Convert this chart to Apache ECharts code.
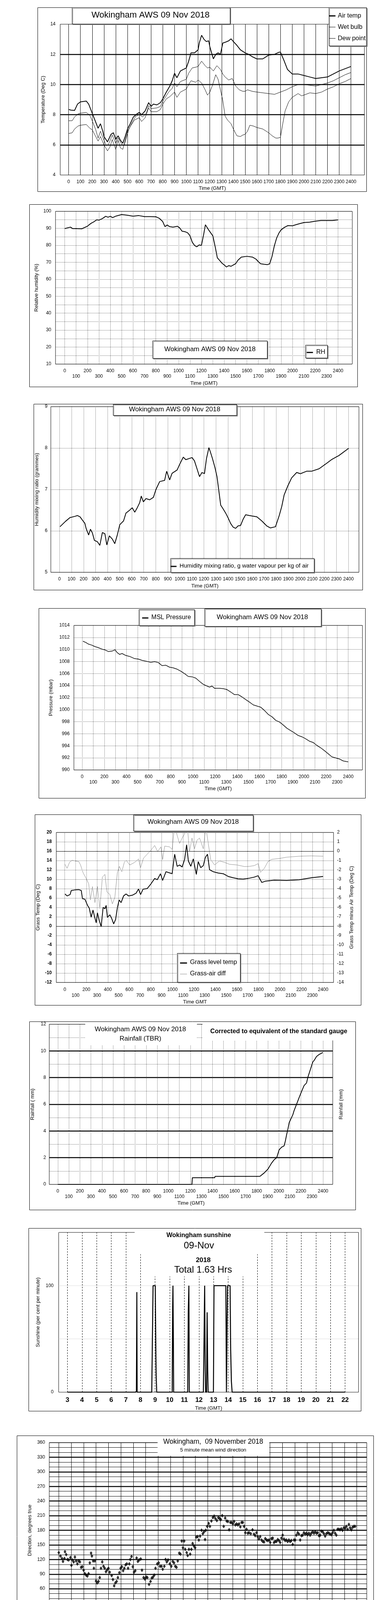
<!DOCTYPE html>
<html><head><meta charset="utf-8">
<script src="https://cdn.jsdelivr.net/npm/echarts@6/dist/echarts.min.js"></script>
<style>html,body{margin:0;padding:0;background:#fff}#c{width:1000px;height:5000px}</style>
</head><body><div id="c"></div>
<script>
const FONT = "'Liberation Sans', Arial, sans-serif";
// ---- tick labels ----
const hundreds = [0,100,200,300,400,500,600,700,800,900,1000,1100,1200,1300,1400,1500,1600,1700,1800,1900,2000,2100,2200,2300,2400];
const hours0to24 = [0,1,2,3,4,5,6,7,8,9,10,11,12,13,14,15,16,17,18,19,20,21,22,23,24];
const hours0to23 = [0,1,2,3,4,5,6,7,8,9,10,11,12,13,14,15,16,17,18,19,20,21,22,23];
const sunHours = [3,4,5,6,7,8,9,10,11,12,13,14,15,16,17,18,19,20,21,22];
const tempThick = [6,8,10,12];
const rainThick = [2,4,6,8,10];
const dirThick = [30,60,90,120,150,180,210,240,270,300,330];
const grassSolid = [0,16];

// ---- chart 1: temperatures ----
const airTemp = [[0,8.35],[20,8.3],[50,8.28],[75,8.7],[100,8.85],[150,8.9],[170,8.7],[200,8.1],[230,7.5],[250,7.1],[270,7.4],[290,6.9],[300,6.55],[330,6.2],[360,6.7],[380,6.8],[400,6.35],[420,6.6],[440,6.3],[460,6.1],[480,6.55],[500,7.05],[520,7.35],[550,7.85],[580,8.05],[600,8.15],[620,8.0],[650,8.25],[680,8.8],[700,8.55],[720,8.7],[750,8.65],[780,8.8],[800,9.05],[830,9.5],[860,9.9],[880,10.25],[900,10.75],[920,10.45],[950,10.9],[1000,11.1],[1020,11.55],[1040,12.1],[1070,12.1],[1100,12.3],[1110,12.75],[1130,13.27],[1150,13.0],[1170,12.85],[1190,12.9],[1200,12.5],[1230,11.7],[1250,12.0],[1270,12.1],[1290,12.0],[1310,12.75],[1330,12.8],[1360,12.9],[1380,13.03],[1400,12.85],[1430,12.6],[1460,12.3],[1500,12.1],[1530,12.0],[1560,11.85],[1600,11.7],[1650,11.7],[1700,11.95],[1750,12.0],[1790,12.15],[1800,12.15],[1830,11.6],[1860,11.0],[1900,10.7],[1950,10.7],[2000,10.6],[2050,10.5],[2100,10.4],[2150,10.45],[2200,10.5],[2250,10.7],[2300,10.9],[2350,11.05],[2400,11.2]];
const wetBulb = [[0,7.6],[30,7.6],[50,7.85],[80,8.05],[100,8.1],[150,8.15],[180,7.95],[200,7.6],[230,7.0],[250,6.45],[270,6.9],[300,6.3],[320,5.95],[340,6.05],[370,6.65],[400,6.1],[420,6.45],[450,6.05],[470,5.95],[490,6.45],[510,7.0],[540,7.5],[570,7.9],[600,8.0],[630,7.85],[660,8.1],[680,8.6],[700,8.4],[750,8.45],[780,8.55],[800,8.9],[850,9.5],[880,9.75],[900,10.1],[920,9.85],[950,10.2],[1000,10.35],[1020,10.75],[1050,11.1],[1080,11.15],[1100,11.2],[1130,11.55],[1160,11.25],[1180,11.1],[1200,11.15],[1230,10.9],[1260,11.25],[1290,11.0],[1310,10.7],[1330,10.5],[1360,10.3],[1390,10.4],[1420,9.9],[1450,9.65],[1480,9.55],[1500,9.55],[1520,9.65],[1560,9.55],[1600,9.5],[1650,9.45],[1700,9.4],[1750,9.35],[1800,9.5],[1850,9.65],[1900,9.85],[1950,10.0],[2000,10.0],[2050,9.95],[2100,9.9],[2150,10.0],[2200,10.1],[2250,10.25],[2300,10.45],[2350,10.65],[2400,10.8]];
const dewPoint = [[0,6.75],[30,6.8],[50,7.05],[80,7.25],[100,7.3],[150,7.35],[180,7.1],[200,7.0],[220,6.7],[250,6.25],[270,6.55],[300,6.0],[330,5.6],[350,5.85],[370,6.35],[400,5.7],[420,6.3],[440,5.8],[460,5.7],[480,6.3],[500,6.9],[530,7.3],[560,7.65],[600,7.8],[620,7.55],[650,7.8],[680,8.45],[700,8.2],[750,8.2],[780,8.35],[800,8.7],[830,9.05],[860,9.2],[900,9.5],[920,9.15],[950,9.5],[1000,9.7],[1020,10.0],[1040,10.25],[1080,10.15],[1100,10.3],[1130,10.1],[1160,9.65],[1180,9.3],[1200,9.5],[1220,9.9],[1250,10.65],[1270,10.35],[1290,9.65],[1310,8.95],[1330,7.9],[1350,7.65],[1380,7.4],[1400,7.05],[1430,6.6],[1460,6.55],[1480,6.65],[1500,6.7],[1520,6.9],[1540,7.3],[1570,7.25],[1600,7.15],[1650,7.05],[1700,6.8],[1730,6.6],[1760,6.45],[1780,6.45],[1800,6.5],[1820,7.4],[1840,8.25],[1870,8.85],[1900,9.15],[1950,9.4],[1980,9.25],[2000,9.3],[2050,9.45],[2100,9.4],[2150,9.5],[2200,9.7],[2250,9.85],[2300,10.05],[2350,10.2],[2400,10.4]];
// ---- chart 2: RH ----
const rh = [[0,89.8],[50,90.7],[70,89.8],[100,89.8],[150,89.7],[200,91.3],[230,92.9],[260,94.0],[280,95.0],[300,94.8],[330,95.7],[360,97.1],[380,96.5],[400,97.1],[420,96.3],[450,97.2],[500,98.1],[550,97.7],[600,97.1],[650,97.5],[700,96.9],[750,96.9],[800,96.8],[830,95.9],[860,94.0],[880,91.0],[900,91.9],[920,91.0],[950,90.7],[990,91.2],[1010,90.2],[1030,88.3],[1060,87.9],[1080,87.3],[1100,85.6],[1120,81.8],[1140,79.9],[1160,79.1],[1180,80.2],[1200,79.9],[1220,86.4],[1235,92.1],[1260,89.4],[1280,87.5],[1300,85.6],[1320,79.5],[1340,72.6],[1360,71.1],[1380,69.5],[1400,68.4],[1420,67.2],[1440,68.0],[1460,67.6],[1480,68.4],[1500,69.1],[1520,71.1],[1550,73.0],[1600,73.5],[1650,73.0],[1680,71.8],[1700,70.3],[1720,69.1],[1750,68.8],[1780,68.6],[1800,69.1],[1820,73.4],[1840,79.5],[1860,84.1],[1880,87.1],[1900,89.1],[1930,90.6],[1960,91.6],[2000,91.5],[2030,92.1],[2060,92.7],[2100,93.4],[2150,93.6],[2200,94.2],[2250,94.6],[2300,94.6],[2350,94.6],[2400,95.0]];
// ---- chart 3: mixing ratio ----
const mixRatio = [[4,6.10],[50,6.23],[87,6.32],[128,6.35],[149,6.37],[170,6.34],[190,6.26],[211,6.18],[221,6.06],[242,5.90],[257,6.04],[273,5.95],[290,5.77],[314,5.74],[335,5.65],[356,5.96],[377,5.93],[393,5.66],[414,5.88],[439,5.80],[459,5.69],[480,5.90],[501,6.15],[532,6.24],[552,6.43],[583,6.50],[604,6.56],[625,6.45],[646,6.56],[666,6.68],[679,6.84],[697,6.70],[718,6.78],[749,6.75],[780,6.81],[801,7.0],[832,7.19],[873,7.22],[890,7.44],[915,7.23],[935,7.39],[977,7.47],[997,7.60],[1028,7.78],[1049,7.72],[1101,7.77],[1121,7.69],[1142,7.50],[1163,7.31],[1183,7.41],[1204,7.38],[1221,7.75],[1241,8.01],[1256,7.88],[1270,7.75],[1291,7.53],[1308,7.31],[1322,7.0],[1339,6.62],[1359,6.53],[1380,6.43],[1401,6.31],[1421,6.18],[1442,6.09],[1463,6.06],[1483,6.12],[1504,6.13],[1525,6.28],[1546,6.39],[1577,6.37],[1639,6.34],[1680,6.24],[1721,6.12],[1752,6.07],[1794,6.10],[1825,6.37],[1846,6.59],[1866,6.87],[1897,7.09],[1928,7.28],[1970,7.41],[2001,7.38],[2052,7.44],[2094,7.44],[2156,7.50],[2218,7.63],[2259,7.72],[2321,7.82],[2400,7.99]];
// ---- chart 4: MSL pressure ----
const pressure = [[7,1011.37],[34,1011.15],[56,1010.9],[90,1010.7],[113,1010.5],[146,1010.3],[180,1010.05],[203,1009.95],[236,1009.66],[270,1009.73],[297,1009.95],[315,1009.5],[338,1009.18],[360,1009.33],[394,1009.0],[428,1008.85],[473,1008.48],[507,1008.4],[540,1008.2],[585,1008.02],[619,1007.87],[653,1007.98],[687,1007.83],[720,1007.32],[754,1007.39],[788,1007.06],[822,1006.95],[856,1006.73],[889,1006.4],[923,1006.0],[957,1005.52],[991,1005.46],[1025,1005.24],[1059,1004.69],[1092,1004.21],[1126,1003.93],[1149,1003.75],[1171,1003.93],[1194,1003.55],[1239,1003.55],[1273,1003.49],[1306,1003.34],[1340,1002.94],[1374,1002.5],[1408,1002.5],[1441,1002.13],[1475,1001.69],[1509,1001.26],[1543,1000.8],[1577,1000.6],[1610,1000.42],[1644,999.88],[1678,999.22],[1712,998.83],[1746,998.23],[1779,997.97],[1813,997.47],[1847,996.92],[1881,996.53],[1914,996.15],[1948,995.72],[1982,995.5],[2016,995.17],[2050,994.77],[2083,994.56],[2117,994.07],[2151,993.68],[2185,993.2],[2218,992.7],[2252,992.17],[2286,992.0],[2320,991.82],[2354,991.49],[2387,991.38],[2400,991.34]];
// ---- chart 5: grass ----
const grassTemp = [[2,6.88],[21,6.45],[49,6.74],[60,7.6],[95,7.74],[130,7.8],[153,7.6],[164,5.88],[187,5.74],[211,4.44],[227,3.87],[245,1.92],[262,3.44],[275,2.15],[292,0.71],[303,2.86],[319,1.29],[338,-0.09],[356,4.01],[373,3.72],[384,4.44],[396,1.86],[419,2.43],[437,1.57],[454,0.48],[472,1.43],[488,3.87],[505,5.59],[523,5.02],[546,6.45],[569,6.88],[592,6.45],[627,6.6],[662,7.03],[685,7.94],[704,6.74],[727,7.89],[766,8.03],[801,9.04],[835,10.18],[859,9.9],[889,11.19],[909,9.75],[940,11.62],[997,11.19],[1021,15.35],[1044,12.77],[1067,13.05],[1090,12.62],[1113,14.2],[1132,17.36],[1148,13.92],[1171,12.77],[1194,14.35],[1222,11.04],[1240,13.77],[1263,12.48],[1287,12.91],[1305,14.63],[1326,15.35],[1345,12.05],[1379,11.62],[1426,11.33],[1472,11.19],[1518,10.61],[1564,10.33],[1611,10.1],[1657,10.04],[1715,10.24],[1761,10.47],[1796,10.76],[1831,9.32],[1865,9.61],[1946,9.81],[2062,9.75],[2177,9.9],[2293,10.33],[2400,10.61]];
const grassAirDiff = [[2,-1.4],[21,-1.83],[44,-1.19],[67,-0.97],[95,-1.04],[130,-1.11],[146,-1.47],[171,-2.33],[199,-2.91],[222,-3.48],[238,-5.2],[257,-3.77],[280,-5.49],[303,-3.77],[326,-6.13],[349,-2.76],[373,-2.48],[391,-4.34],[419,-4.63],[442,-5.63],[465,-4.92],[488,-2.33],[507,-1.62],[530,-2.19],[553,-1.19],[569,-0.97],[604,-1.47],[650,-1.19],[685,-0.83],[704,-1.76],[731,-0.75],[766,-0.32],[801,0.11],[835,0.61],[863,-0.04],[893,0.46],[909,-0.9],[928,0.54],[974,0.46],[997,0.18],[1021,2.8],[1044,1.68],[1067,0.82],[1090,1.4],[1113,1.83],[1132,3.5],[1159,-0.04],[1182,1.4],[1205,0.25],[1229,1.18],[1252,1.4],[1287,0.25],[1310,2.6],[1333,0.82],[1356,-0.9],[1391,-1.47],[1437,-1.04],[1484,-1.19],[1530,-1.4],[1599,-1.47],[1669,-1.64],[1715,-1.62],[1761,-1.54],[1796,-1.33],[1819,-2.26],[1854,-1.83],[1888,-1.11],[1923,-0.87],[1993,-0.78],[2062,-0.64],[2177,-0.54],[2293,-0.5],[2400,-0.54]];
// ---- chart 6: rainfall ----
const rainfall = [[0,0],[1214,0],[1218,0.5],[1420,0.5],[1423,0.6],[1829,0.6],[1868,0.86],[1902,1.15],[1935,1.6],[1958,1.85],[1981,2.0],[2003,2.59],[2014,2.69],[2026,2.79],[2048,2.89],[2059,3.24],[2071,3.74],[2082,4.13],[2094,4.63],[2105,4.83],[2127,5.22],[2138,5.52],[2161,6.01],[2184,6.51],[2206,6.96],[2229,7.41],[2251,7.6],[2262,8.0],[2285,8.59],[2308,9.18],[2319,9.28],[2341,9.58],[2364,9.73],[2398,9.88]];
// ---- chart 7: sunshine ----
const sunshine = [[3,0],[7.66,0],[7.72,1],[7.75,94],[7.77,0],[8.77,0],[8.86,100],[9.01,100],[9.05,40],[9.07,17],[9.11,0],[10.17,0],[10.2,80],[10.22,100],[10.25,50],[10.27,0],[11.23,0],[11.27,75],[11.31,100],[11.34,0],[12.3,0],[12.34,40],[12.39,100],[12.43,20],[12.46,0],[12.52,0],[12.56,75],[12.6,20],[12.63,0],[12.99,0],[13.03,100],[13.84,100],[13.88,0],[13.9,0],[13.93,70],[13.96,100],[14.13,100],[14.17,40],[14.22,10],[14.27,0],[22,0]];
// ---- chart 8: wind direction ----
const windDir = [[0,134],[0.14,127],[0.26,122],[0.34,116],[0.46,122],[0.5,136],[0.6,130],[0.7,120],[0.8,119],[0.94,124],[1.02,108],[1.1,119],[1.2,115],[1.3,125],[1.4,117],[1.5,111],[1.6,117],[1.7,115],[1.8,104],[1.9,105],[2.0,98],[2.1,91],[2.2,88],[2.3,86],[2.4,91],[2.5,113],[2.6,133],[2.67,127],[2.77,117],[2.83,102],[2.9,117],[3.0,76],[3.1,72],[3.2,75],[3.3,83],[3.4,102],[3.5,115],[3.6,106],[3.7,102],[3.8,95],[3.9,99],[4.0,102],[4.1,94],[4.26,87],[4.36,79],[4.46,66],[4.56,72],[4.66,75],[4.76,83],[4.88,93],[4.98,102],[5.08,105],[5.18,97],[5.28,102],[5.38,109],[5.48,111],[5.58,102],[5.68,111],[5.76,120],[5.86,126],[5.96,105],[6.06,94],[6.16,97],[6.27,123],[6.37,116],[6.47,119],[6.6,121],[6.7,98],[6.83,83],[6.93,80],[7.03,84],[7.13,83],[7.27,69],[7.39,75],[7.49,82],[7.59,84],[7.69,88],[7.79,102],[7.93,111],[8.05,113],[8.15,106],[8.27,106],[8.37,100],[8.5,106],[8.6,120],[8.7,115],[8.8,119],[8.94,111],[9.06,106],[9.18,116],[9.28,113],[9.38,106],[9.48,104],[9.58,117],[9.7,133],[9.8,131],[9.9,158],[10.0,144],[10.1,158],[10.18,141],[10.3,134],[10.38,128],[10.48,141],[10.58,131],[10.68,141],[10.78,153],[10.88,148],[10.98,144],[11.08,166],[11.18,167],[11.28,160],[11.38,168],[11.5,180],[11.6,173],[11.7,177],[11.78,161],[11.84,180],[11.95,188],[12.07,194],[12.17,188],[12.29,199],[12.41,206],[12.51,209],[12.61,204],[12.73,200],[12.85,206],[12.95,204],[13.05,202],[13.16,210],[13.28,188],[13.4,205],[13.52,199],[13.62,198],[13.72,181],[13.82,196],[13.92,196],[14.02,193],[14.12,198],[14.22,191],[14.32,193],[14.42,191],[14.52,193],[14.62,187],[14.72,196],[14.82,196],[14.92,188],[15.02,175],[15.12,182],[15.22,174],[15.32,175],[15.46,173],[15.6,181],[15.72,172],[15.82,169],[15.92,175],[16.02,167],[16.12,162],[16.22,167],[16.33,160],[16.43,157],[16.53,156],[16.63,163],[16.73,160],[16.83,159],[16.93,160],[17.03,155],[17.13,163],[17.23,164],[17.33,155],[17.43,157],[17.53,157],[17.63,161],[17.73,159],[17.83,155],[17.93,164],[18.03,170],[18.13,162],[18.23,159],[18.33,160],[18.43,157],[18.53,160],[18.63,157],[18.73,159],[18.84,151],[18.94,160],[19.04,160],[19.14,170],[19.24,175],[19.34,172],[19.44,160],[19.54,169],[19.64,170],[19.74,175],[19.84,172],[19.94,174],[20.04,171],[20.14,174],[20.24,170],[20.34,174],[20.45,177],[20.55,174],[20.65,177],[20.75,174],[20.85,175],[20.95,169],[21.05,170],[21.15,178],[21.25,177],[21.35,173],[21.45,168],[21.55,173],[21.65,175],[21.75,174],[21.85,172],[21.95,171],[22.05,175],[22.15,180],[22.25,174],[22.35,170],[22.45,182],[22.55,182],[22.65,181],[22.75,183],[22.85,180],[22.95,185],[23.06,184],[23.16,188],[23.26,182],[23.36,192],[23.46,185],[23.56,181],[23.66,186],[23.76,188],[23.86,188]];
// ---- chart 9: wind speed ----
const meanSpeed = [[0.04,6.86],[0.14,7.33],[0.24,6.39],[0.43,5.45],[0.63,6.63],[0.82,5.22],[1.12,4.75],[1.31,5.22],[1.61,3.57],[1.9,3.8],[2.1,4.28],[2.29,4.75],[2.49,3.34],[2.68,2.63],[2.84,1.93],[2.98,1.69],[3.13,4.28],[3.37,3.57],[3.66,3.8],[3.96,4.51],[4.25,4.04],[4.55,3.8],[4.84,4.28],[5.13,3.57],[5.43,4.04],[5.72,4.75],[6.01,4.28],[6.31,3.34],[6.5,2.4],[6.7,3.8],[6.99,4.04],[7.29,3.8],[7.58,3.57],[7.88,4.04],[8.17,5.45],[8.46,5.22],[8.86,5.92],[9.25,6.25],[9.64,5.92],[9.93,4.51],[10.13,6.16],[10.42,7.8],[10.72,7.1],[10.91,6.16],[11.21,8.98],[11.5,8.27],[11.79,6.63],[11.99,7.57],[12.19,9.45],[12.48,10.39],[12.77,11.8],[12.97,10.86],[13.26,12.03],[13.46,11.33],[13.66,9.21],[13.95,11.8],[14.24,10.15],[14.54,13.2],[14.83,11.33],[15.13,8.5],[15.42,11.33],[15.71,10.62],[16.01,9.92],[16.3,10.39],[16.69,11.33],[16.99,12.03],[17.28,10.39],[17.57,11.8],[17.87,13.91],[18.16,11.33],[18.46,12.5],[18.75,11.8],[19.04,9.68],[19.34,10.86],[19.63,12.03],[19.93,11.33],[20.22,11.8],[20.42,13.2],[20.71,12.03],[21.0,11.09],[21.3,11.33],[21.59,12.73],[21.88,10.39],[22.18,11.33],[22.47,9.68],[22.77,11.09],[23.06,11.33],[23.35,10.15],[23.65,9.21],[23.94,8.5]];
const gustEvery10min = [12.2,7.5,10,6.5,12.3,7, 8.5,5,8,6,8.5,4.5, 8,5,8.5,4.5,4,2.5, 3,7,5,8,5.5,8.5, 5,7.5,4.5,7,5,8.5, 5,7,5.5,9,5,11.3, 6,7.5,3.5,7,3,6.5, 4,8,4.5,7.5,4,8, 5.5,9,6,9.5,6,10, 6,11,6.5,10.5,5,12, 7,12.5,7,14.5,6.5,12, 8,16.5,7,15,9,17, 10,16,11,20.5,12,22, 12,25,13,21,12,23, 11,22,12,25,11,19, 10,18,11,21,10,19.5, 11,20,12,26.5,11,22, 12,25,13,20,12,24, 12,22,13,24.5,11,21, 12,25,11,27.5,12,22, 12,26.5,11,25,13,21, 12,25.5,11,24,12,22, 11,21,12,20.5,10,18, 10,16,9,15.5,11,15.5, 15];
const speedDiv10 = [[0.98,40.1],[1.02,39.3],[1.08,38.6],[1.14,40.0],[1.57,38.7],[1.58,37.9],[1.65,36.5],[1.70,36.7],[1.76,36.2],[1.80,35.5],[1.84,34.8],[1.88,33.9],[1.92,34.8],[1.96,39.8],[2.0,37.6],[2.04,38.3],[2.08,36.7],[2.12,38.1],[2.16,39.5],[2.39,38.6],[2.45,38.1],[2.47,36.2],[2.49,34.8],[2.51,33.2],[2.53,31.5],[2.55,29.6],[2.57,27.5],[2.59,25.9],[2.61,25.0],[2.63,24.2],[2.65,23.5],[2.68,22.6],[2.72,23.8],[2.78,22.4],[2.82,20.7],[2.86,19.1],[2.90,17.4],[2.94,16.6],[2.98,15.8],[3.0,17.9],[3.02,19.8],[3.04,21.2],[3.06,23.1],[3.08,24.5],[3.10,26.1],[3.11,28.2],[3.12,31.2],[3.13,33.6],[3.15,36.3],[3.17,39.0],[3.47,38.3],[3.53,35.8],[3.57,34.6],[3.61,36.7],[3.64,37.6],[3.68,38.6],[3.72,40.0],[3.78,39.5],[3.84,39.0],[3.92,39.8],[4.31,39.5],[4.35,38.1],[4.39,36.9],[4.43,35.8],[4.45,33.9],[4.51,34.3],[4.55,39.8],[4.58,37.6],[4.64,38.6],[4.70,36.7],[4.74,35.8],[4.78,37.6],[4.84,36.5],[4.88,39.0],[4.94,37.6],[4.98,39.8],[5.04,36.9],[5.09,35.5],[5.13,34.3],[5.17,38.1],[5.23,39.0],[5.29,39.5],[6.03,39.8],[6.05,38.6],[6.07,37.4],[6.09,36.2],[6.11,34.6],[6.11,31.3],[6.13,30.1],[6.17,29.6],[6.21,28.9],[6.25,28.2],[6.29,29.8],[6.33,27.3],[6.37,26.6],[6.41,25.9],[6.45,25.0],[6.49,23.8],[6.50,22.6],[6.52,25.4],[6.56,26.5],[6.58,28.8],[6.60,32.2],[6.62,34.4],[6.70,39.8],[6.74,39.3],[6.78,37.6],[6.82,36.5],[6.86,38.1],[6.90,37.4],[6.94,38.6],[6.97,36.9],[7.29,39.0],[7.35,37.6],[7.41,38.3],[7.48,39.8],[7.52,36.9],[7.56,35.8],[7.60,34.8],[7.64,33.4],[7.68,36.2],[7.72,37.6],[7.76,36.7],[7.80,37.6],[7.84,38.8],[7.88,40.0]];
const gust = gustEvery10min.map((v, i) => [i / 6, v]);

// ---- layout (frames in page px) ----
const G = [[154,62,932,448],[142,541,901,932],[130,1041,918,1465],[189,1601,927,1971],[144,2131,853,2515],[126,2622,851,3032],[150,3155,917,3564],[126,3693,938,4142],[96,4263,945,4643]];

const plain = v => String(v);
const lab = o => Object.assign({color:'#000', fontFamily:FONT, fontSize:12, formatter:plain}, o);
const nm = {color:'#000', fontFamily:FONT, fontSize:13};
const dotted = {color:'#000', width:1, type:[1,2]};
const solid = (w) => ({color:'#000', width:w, type:'solid'});
function X(gi,min,max,label,name,gap){return {type:'value',gridIndex:gi,min,max,axisLine:{show:false},axisTick:{show:false},splitLine:{show:false},axisLabel:lab(label),name,nameLocation:'middle',nameGap:gap,nameTextStyle:nm};}
function Y(gi,min,max,interval,o){return Object.assign({type:'value',gridIndex:gi,min,max,interval,axisLine:{show:false},axisTick:{show:false},splitLine:{show:false},nameLocation:'middle',nameRotate:90,nameTextStyle:nm},o);}
const twoRow = v => (Math.round(v/100)%2 ? '\n'+v : ''+v);
const hhmm = v => { const s=(v<10?'0':'')+v+':00'; return v%2 ? '\n'+s : s; };
function marks(xi,yi,key,vals,style){return {type:'line',xAxisIndex:xi,yAxisIndex:yi,data:[],z:1,silent:true,markLine:{silent:true,symbol:['none','none'],animation:false,label:{show:false},emphasis:{disabled:true},lineStyle:style,data:vals.map(v=>({[key]:v,lineStyle:style}))}};}
function line(xi,yi,data,color,width,z){return {type:'line',xAxisIndex:xi,yAxisIndex:yi,data,showSymbol:false,symbol:'none',lineStyle:{color,width,type:'solid'},z:z||3,silent:true};}

// ---- graphics helpers ----
const P = v => Math.round(v)+0.5;
function box(x1,y1,x2,y2,shadow){return {type:'rect',z:100,shape:{x:P(x1),y:P(y1),width:Math.round(x2-x1),height:Math.round(y2-y1)},style:Object.assign({fill:'#fff',stroke:'#000',lineWidth:1},shadow?{shadowColor:'#808080',shadowOffsetX:2,shadowOffsetY:2,shadowBlur:0}:{})};}
function wbox(x1,y1,x2,y2){return {type:'rect',z:100,shape:{x:x1,y:y1,width:x2-x1,height:y2-y1},style:{fill:'#fff'}};}
function frame(x1,y1,x2,y2){return {type:'rect',z:90,shape:{x:P(x1),y:P(y1),width:Math.round(x2-x1),height:Math.round(y2-y1)},style:{fill:'none',stroke:'#000',lineWidth:1}};}
function txt(x,y,text,size,o){return {type:'text',z:110,x,y,style:Object.assign({text,fontSize:size,fontFamily:FONT,fill:'#000',textAlign:'center',textVerticalAlign:'middle',align:'center',verticalAlign:'middle'},o||{})};}
function seg(x1,y1,x2,y2,w,c){return {type:'line',z:110,shape:{x1,y1,x2,y2},style:{stroke:c||'#000',lineWidth:w}};}
const L = {textAlign:'left',align:'left'};

const graphics = [
  frame(95.7,19.3,936.5,490), frame(75.3,522.7,914,989.3), frame(86.1,1034,926.7,1510), frame(98.9,1556.9,934.3,2042.7),
  frame(89.3,2084.5,923.5,2572), frame(75.3,2615.1,908.8,3096.8), frame(73.3,3144.4,923.5,3612.3), frame(42.7,3674.5,954.7,4190), frame(38.3,4220.7,950.3,4715.4),
  // chart 1
  box(184.3,19.3,588,61,true), txt(385,38.5,'Wokingham AWS 09 Nov 2018',22),
  box(840.6,19.3,936.2,117.3,true),
  seg(842,40.7,858,40.7,3), txt(864,40.7,'Air temp',16,L),
  seg(842,69.3,858,69.3,1), txt(864,69.3,'Wet bulb',16,L),
  seg(842,98.3,858,98.3,1), txt(864,98.3,'Dew point',16,L),
  // chart 2
  box(390.3,871.7,683.7,916.7,true), txt(537,894,'Wokingham AWS 09 Nov 2018',17),
  box(781.2,883.3,836.7,916.7,true), seg(784.4,902.3,800.4,902.3,3), txt(808.7,901.5,'RH',16,L),
  // chart 3
  box(288.9,1035,604.6,1062.7,true), txt(446.7,1048.5,'Wokingham AWS 09 Nov 2018',17),
  box(435.6,1429.3,802.3,1465.3,true), seg(437,1450,451.5,1450,3), txt(459.2,1449.3,'Humidity mixing ratio, g water vapour per kg of air',15,L),
  // chart 4
  box(354.6,1560.3,496.2,1600.9,true), seg(363.5,1582,379.5,1582,3), txt(387.1,1581,'MSL Pressure',16,L),
  box(523,1557.6,820.8,1602.5,true), txt(671,1580,'Wokingham AWS 09 Nov 2018',17),
  // chart 5
  box(341.2,2085.5,647.3,2126.1,true), txt(494,2104.5,'Wokingham AWS 09 Nov 2018',17),
  box(452.8,2440.2,614.2,2514.2,true),
  seg(460.5,2465.3,478.3,2465.3,3), txt(486,2464,'Grass level temp',16,L),
  seg(460.5,2493.6,478.3,2493.6,1,'#888'), txt(486,2493,'Grass-air diff',16,L),
  // chart 6
  wbox(218.1,2621,503.8,2676), wbox(517.9,2621,855,2663.4),
  txt(359,2635.4,'Wokingham AWS 09 Nov 2018',17), txt(359,2659,'Rainfall (TBR)',17),
  txt(713,2640.4,'Corrected to equivalent of the standard gauge',16,{fontWeight:'bold'}),
  // chart 7
  wbox(344.4,3154,676,3211), wbox(360.3,3210,657,3267.8),
  txt(508.3,3163,'Wokingham sunshine',16,{fontWeight:'bold'}), txt(508.7,3189.7,'09-Nov',24),
  txt(519.8,3226.2,'2018',17,{fontWeight:'bold'}), txt(519.5,3250.9,'Total 1.63 Hrs',24),
  // chart 8
  wbox(403,3683.8,688.8,3726.8),
  txt(545.3,3691.4,'Wokingham,  09 November 2018',17.5), txt(545.3,3712,'5 minute mean wind direction',13),
  // chart 9
  txt(266.2,4241,'Wokingham,  09 November 2018',17,{fontWeight:'bold'}),
  txt(573.3,4233,'Wind speed, 10 min mean / max gust',13), txt(573.3,4250,'Speeds below 4 kt shown at x10 scale',13),
  box(725.8,4226,945.2,4251.8,true), seg(759,4240,772,4240,3), txt(776.8,4240,'Speed x 1',10,L),
  {type:'polygon',z:110,shape:{points:[[849.5,4235.5],[854,4240],[849.5,4244.5],[845,4240]]},style:{fill:'#c0c0c0',stroke:'#333',lineWidth:1}},
  txt(859,4240,'Speed / 10',10,L)
];

const option = {
  animation:false,
  textStyle:{fontFamily:FONT},
  grid: G.map(g=>({left:g[0],top:g[1],width:g[2]-g[0],height:g[3]-g[1],show:true,borderColor:'#000',borderWidth:1,backgroundColor:'rgba(0,0,0,0)'})),
  xAxis: [
    X(0,-72,2514,{customValues:hundreds,margin:11.5,lineHeight:12},'Time (GMT)',28),
    X(1,-81,2525,{customValues:hundreds,formatter:twoRow,lineHeight:14,margin:10.7},'Time (GMT)',43.4),
    X(2,-72,2487,{customValues:hundreds,margin:12,lineHeight:12},'Time (GMT)',28.7),
    X(3,-74.5,2528,{customValues:hundreds,formatter:twoRow,lineHeight:14,margin:10.6},'Time (GMT)',41.6),
    X(4,-79,2497,{customValues:hundreds,formatter:twoRow,lineHeight:15,margin:11},'Time GMT',43.7),
    X(5,-77,2488,{customValues:hundreds,formatter:twoRow,lineHeight:14.2,margin:10.2},'Time (GMT)',42),
    X(6,2.40,22.92,{customValues:sunHours,fontSize:17,fontWeight:'bold',lineHeight:17,margin:12},'Time (GMT)',34.6),
    X(7,-0.765,24.80,{customValues:hours0to24,margin:11.9,lineHeight:12},'Time (GMT)',28.4),
    X(8,-0.736,25.30,{customValues:hours0to23,formatter:hhmm,lineHeight:14.3,margin:10.5},'Time (GMT)',42.7)
  ],
  yAxis: [
    Y(0,4,14,2,{axisLabel:lab({margin:12}),name:'Temperature (Deg C)',nameGap:37}),
    Y(1,10,100,5,{axisLabel:lab({margin:11,formatter:v=>v%10===0?String(v):''}),splitLine:{show:true,lineStyle:dotted},name:'Relative humidity (%)',nameGap:42}),
    Y(2,5,9,1,{axisLabel:lab({margin:8.5}),splitLine:{show:true,lineStyle:dotted},name:'Humidity mixing ratio (grammes)',nameGap:29}),
    Y(3,990,1014,2,{axisLabel:lab({margin:10.8}),splitLine:{show:true,lineStyle:dotted},name:'Pressure (mbar)',nameGap:51.7}),
    Y(4,-12,20,2,{axisLabel:lab({margin:11.5,fontWeight:'bold'}),splitLine:{show:true,lineStyle:dotted},name:'Grass Temp (Deg C)',nameGap:39.5}),
    Y(4,-14,2,1,{position:'right',axisLabel:lab({margin:9}),name:'Grass Temp minus Air Temp (Deg C)',nameGap:40}),
    Y(5,0,12,1,{axisLabel:lab({margin:8.3,formatter:v=>v%2===0?String(v):''}),splitLine:{show:true,lineStyle:dotted},name:'Rainfall ( mm)',nameGap:36.3}),
    Y(5,0,12,1,{position:'right',axisLabel:{show:false},name:'Rainfall (mm)',nameGap:15.3}),
    Y(6,0,150,50,{axisLabel:lab({margin:13,formatter:v=>(v===0||v===100)?String(v):''}),splitLine:{show:true,lineStyle:{color:'#999',width:1,type:[1,2]}},name:'Sunshine (per cent per minute)',nameGap:46}),
    Y(7,0,360,10,{axisLabel:lab({margin:10.8,formatter:v=>v%30===0?String(v):''}),splitLine:{show:true,lineStyle:solid(1)},name:'Direction, degrees true',nameGap:43}),
    Y(8,0,50,5,{axisLabel:lab({margin:12,formatter:v=>v%10===0?String(v):''}),splitLine:{show:true,lineStyle:dotted},name:'Speed (knots)',nameGap:38.3})
  ],
  series: [
    // chart 1
    marks(0,0,'xAxis',hundreds,solid(1)),
    marks(0,0,'yAxis',tempThick,solid(2.5)),
    line(0,0,dewPoint,'#000',1), line(0,0,wetBulb,'#000',1), line(0,0,airTemp,'#000',2),
    // chart 2
    marks(1,1,'xAxis',hundreds,dotted), line(1,1,rh,'#000',2),
    // chart 3
    marks(2,2,'xAxis',hundreds,dotted), line(2,2,mixRatio,'#000',2),
    // chart 4
    marks(3,3,'xAxis',hundreds,dotted), line(3,3,pressure,'#000',1.5),
    // chart 5
    marks(4,4,'xAxis',hundreds,dotted), marks(4,4,'yAxis',grassSolid,solid(1)),
    line(4,5,grassAirDiff,'#8c8c8c',1), line(4,4,grassTemp,'#000',2),
    // chart 6
    marks(5,6,'xAxis',hundreds,dotted), marks(5,6,'yAxis',rainThick,solid(2.5)),
    line(5,6,rainfall,'#000',2),
    // chart 7
    marks(6,8,'xAxis',sunHours,{color:'#000',width:1,type:[4,3]}), line(6,8,sunshine,'#000',2.5),
    // chart 8
    marks(7,9,'xAxis',hours0to24,solid(1)), marks(7,9,'yAxis',dirThick,solid(2.5)),
    {type:'scatter',xAxisIndex:7,yAxisIndex:9,data:windDir,symbol:'diamond',symbolSize:[7,10],itemStyle:{color:'#000'},z:3,silent:true},
    // chart 9
    marks(8,10,'xAxis',hours0to24,dotted),
    line(8,10,gust,'#4d4d4d',1), line(8,10,meanSpeed,'#000',2,4),
    {type:'scatter',xAxisIndex:8,yAxisIndex:10,data:speedDiv10,symbol:'diamond',symbolSize:[9,10],itemStyle:{color:'#c0c0c0',borderColor:'#333',borderWidth:1},z:5,silent:true}
  ],
  graphic: graphics
};
const chart = echarts.init(document.getElementById('c'), null, {renderer:'canvas', width:1000, height:5000});
chart.setOption(option);
</script></body></html>
